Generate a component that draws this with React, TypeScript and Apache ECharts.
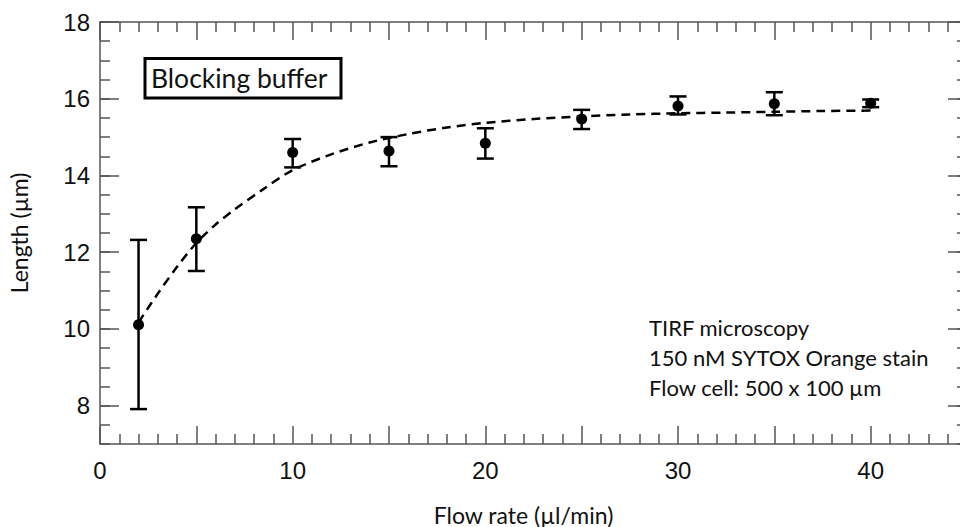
import React, { useEffect, useRef } from "react";
import * as echarts from "echarts";

const flowRate = [2, 5, 10, 15, 20, 25, 30, 35, 40];
const meanLength = [10.11, 12.35, 14.6, 14.64, 14.84, 15.47, 15.81, 15.87, 15.88];
const errLow = [7.91, 11.51, 14.21, 14.24, 14.44, 15.21, 15.59, 15.57, 15.78];
const errHigh = [12.32, 13.17, 14.95, 15.0, 15.23, 15.71, 16.06, 16.17, 15.98];

const fitX = [2, 3, 4, 5, 6, 7, 8.5, 10, 12, 14, 16, 18, 20, 22.5, 25, 27.5, 30, 32.5, 35, 37.5, 40];
const fitY = [10.17, 10.92, 11.62, 12.24, 12.72, 13.12, 13.65, 14.14, 14.55, 14.86, 15.08, 15.25, 15.37, 15.47, 15.54, 15.59, 15.62, 15.64, 15.66, 15.68, 15.69];

const yMajorTicks = [8, 10, 12, 14, 16, 18];
const xLabelTicks = [0, 10, 20, 30, 40];

const AXIS_COLOR = "#555";
const TITLE_FONT = "Lato";

export default function App() {
  const ref = useRef<HTMLDivElement>(null);
  useEffect(() => {
    if (!ref.current) return;
    const chart = echarts.init(ref.current, null, { renderer: "svg" });

    const tickStyle = { color: AXIS_COLOR, width: 1.5 };
    const baseY = {
      type: "value" as const,
      min: 7,
      max: 18,
      splitLine: { show: false },
    };
    const baseX = {
      type: "value" as const,
      min: 0,
      max: 45,
      interval: 5,
      splitLine: { show: false },
    };

    chart.setOption({
      animation: false,
      backgroundColor: "#fff",
      grid: {
        left: 100,
        top: 22,
        width: 867,
        height: 422,
        outerBoundsMode: "none",
        containLabel: false,
      },
      xAxis: [
        {
          ...baseX,
          position: "bottom",
          axisLine: { show: true, lineStyle: { color: AXIS_COLOR, width: 1.5 } },
          axisTick: { show: true, inside: true, length: 18, lineStyle: tickStyle },
          minorTick: { show: true, splitNumber: 5, length: 10, lineStyle: tickStyle },
          axisLabel: {
            show: true,
            customValues: xLabelTicks,
            margin: 14,
            fontFamily: "Liberation Sans",
            fontSize: 24,
            color: "#111",
          },
          name: "Flow rate (µl/min)",
          nameLocation: "middle",
          nameGap: 59,
          nameTextStyle: { fontFamily: TITLE_FONT, fontSize: 23, color: "#111", padding: [0, 20, 0, 0] },
        },
        {
          ...baseX,
          position: "top",
          axisLine: { show: true, lineStyle: { color: AXIS_COLOR, width: 1.5 } },
          axisTick: { show: true, inside: true, length: 18, lineStyle: tickStyle },
          minorTick: { show: true, splitNumber: 5, length: 10, lineStyle: tickStyle },
          axisLabel: { show: false },
        },
      ],
      yAxis: [
        {
          ...baseY,
          position: "left",
          axisLine: { show: true, lineStyle: { color: AXIS_COLOR, width: 1.5 } },
          axisTick: { show: true, inside: true, length: 19, customValues: yMajorTicks, lineStyle: tickStyle },
          axisLabel: {
            show: true,
            customValues: yMajorTicks,
            margin: 10,
            fontFamily: "Liberation Sans",
            fontSize: 24,
            color: "#111",
          },
          name: "Length (µm)",
          nameLocation: "middle",
          nameGap: 70,
          nameRotate: 90,
          nameTextStyle: { fontFamily: TITLE_FONT, fontSize: 23, color: "#111" },
        },
        {
          ...baseY,
          interval: 0.5,
          position: "left",
          axisLine: { show: false },
          axisTick: { show: true, inside: true, length: 10, lineStyle: tickStyle },
          axisLabel: { show: false },
        },
        {
          ...baseY,
          position: "right",
          axisLine: { show: true, lineStyle: { color: AXIS_COLOR, width: 1.5 } },
          axisTick: { show: true, inside: true, length: 19, customValues: yMajorTicks, lineStyle: tickStyle },
          axisLabel: { show: false },
        },
        {
          ...baseY,
          interval: 0.5,
          position: "right",
          axisLine: { show: false },
          axisTick: { show: true, inside: true, length: 10, lineStyle: tickStyle },
          axisLabel: { show: false },
        },
      ],
      series: [
        {
          type: "line",
          xAxisIndex: 0,
          yAxisIndex: 0,
          data: fitX.map((x, i) => [x, fitY[i]]),
          smooth: 0.3,
          showSymbol: false,
          symbol: "none",
          lineStyle: { color: "#000", width: 2.5, type: [9, 6] },
          z: 2,
        },
        {
          type: "custom",
          xAxisIndex: 0,
          yAxisIndex: 0,
          data: flowRate.map((x, i) => [x, errLow[i], errHigh[i]]),
          encode: { x: 0, y: [1, 2] },
          renderItem: (params: any, api: any) => {
            const x = api.value(0);
            const pLo = api.coord([x, api.value(1)]);
            const pHi = api.coord([x, api.value(2)]);
            const w = 8.5;
            const st = { stroke: "#000", lineWidth: 2.5 };
            return {
              type: "group",
              children: [
                { type: "line", shape: { x1: pLo[0], y1: pLo[1], x2: pHi[0], y2: pHi[1] }, style: st },
                { type: "line", shape: { x1: pLo[0] - w, y1: pLo[1], x2: pLo[0] + w, y2: pLo[1] }, style: st },
                { type: "line", shape: { x1: pHi[0] - w, y1: pHi[1], x2: pHi[0] + w, y2: pHi[1] }, style: st },
              ],
            };
          },
          z: 3,
        },
        {
          type: "scatter",
          xAxisIndex: 0,
          yAxisIndex: 0,
          data: flowRate.map((x, i) => [x, meanLength[i]]),
          symbol: "circle",
          symbolSize: 11,
          itemStyle: { color: "#000", opacity: 1 },
          z: 4,
        },
      ],
      graphic: [
        {
          type: "rect",
          shape: { x: 145, y: 58.5, width: 196, height: 39.5 },
          style: { fill: "#fff", stroke: "#000", lineWidth: 3 },
          z: 10,
        },
        {
          type: "text",
          x: 151,
          y: 78,
          style: {
            text: "Blocking buffer",
            font: `26.5px ${TITLE_FONT}`,
            fill: "#111",
            verticalAlign: "middle",
            align: "left",
          },
          z: 11,
        },
        {
          type: "text",
          x: 649,
          y: 327,
          style: { text: "TIRF microscopy", font: `22px ${TITLE_FONT}`, fill: "#111", verticalAlign: "middle" },
          z: 11,
        },
        {
          type: "text",
          x: 649,
          y: 357,
          style: { text: "150 nM SYTOX Orange stain", font: `22px ${TITLE_FONT}`, fill: "#111", verticalAlign: "middle" },
          z: 11,
        },
        {
          type: "text",
          x: 649,
          y: 387,
          style: { text: "Flow cell: 500 x 100 µm", font: `22px ${TITLE_FONT}`, fill: "#111", verticalAlign: "middle" },
          z: 11,
        },
      ],
    });
    return () => chart.dispose();
  }, []);

  return (
    <div
      ref={ref}
      style={{ position: "fixed", left: 0, top: 0, width: 960, height: 527, background: "#fff" }}
    />
  );
}
